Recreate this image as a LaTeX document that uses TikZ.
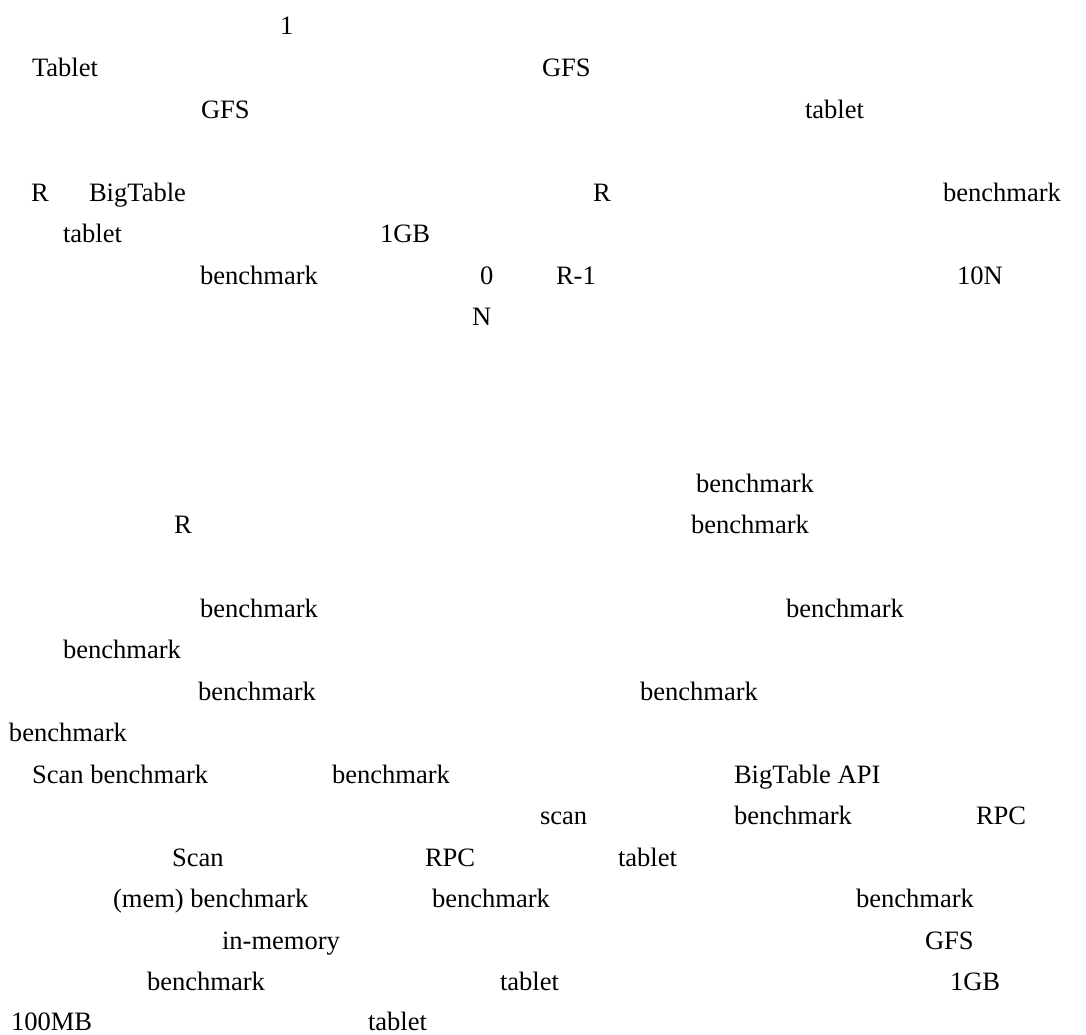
\documentclass[tikz,border=0pt]{standalone}
\usepackage{fontspec}
\setmainfont{Liberation Serif}
\tikzset{
  frag/.style={anchor=base west, inner sep=0pt, outer sep=0pt, font=\fontsize{12}{14}\selectfont}
}
\begin{document}
\begin{tikzpicture}[x=0.01588cm, y=-0.01588cm]
        \useasboundingbox (0,0) rectangle (1086,1034);
        \node[frag] (num)       at (280,34.5)  {1};
        \node[frag] (tabA)      at (32,76)     {Tablet};
        \node[frag] (gfsA)      at (542,76)    {GFS};
        \node[frag] (gfsB)      at (201,118)   {GFS};
        \node[frag] (tabB)      at (805,118)   {tablet};
        \node[frag] (rA)        at (31,201)    {R};
        \node[frag] (bigtA)     at (89,201)    {BigTable};
        \node[frag] (rB)        at (593,201)   {R};
        \node[frag] (benA)      at (943,201)   {benchmark};
        \node[frag] (tabC)      at (63,242.5)  {tablet};
        \node[frag] (gbA)       at (380,242.5) {1GB};
        \node[frag] (benB)      at (200,284)   {benchmark};
        \node[frag] (zero)      at (480,284)   {0};
        \node[frag] (rminus)    at (556,284)   {R-1};
        \node[frag] (tenN)      at (957,284)   {10N};
        \node[frag] (enN)       at (472,325.5) {N};
        \node[frag] (benC)      at (696,492)   {benchmark};
        \node[frag] (rC)        at (174,533.5) {R};
        \node[frag] (benD)      at (691,533.5) {benchmark};
        \node[frag] (benE)      at (200,617)   {benchmark};
        \node[frag] (benF)      at (786,617)   {benchmark};
        \node[frag] (benG)      at (63,658.5)  {benchmark};
        \node[frag] (benH)      at (198,700)   {benchmark};
        \node[frag] (benI)      at (640,700)   {benchmark};
        \node[frag] (benJ)      at (9,741.5)   {benchmark};
        \node[frag] (scanA)     at (32,783)    {Scan benchmark};
        \node[frag] (benK)      at (332,783)   {benchmark};
        \node[frag] (api)       at (734,783)   {BigTable API};
        \node[frag] (scanB)     at (540,824.5) {scan};
        \node[frag] (benL)      at (734,824.5) {benchmark};
        \node[frag] (rpcA)      at (976,824.5) {RPC};
        \node[frag] (scanC)     at (172,866)   {Scan};
        \node[frag] (rpcB)      at (425,866)   {RPC};
        \node[frag] (tabD)      at (618,866)   {tablet};
        \node[frag] (mem)       at (113,907.5) {(mem) benchmark};
        \node[frag] (benM)      at (432,907.5) {benchmark};
        \node[frag] (benN)      at (856,907.5) {benchmark};
        \node[frag] (inmem)     at (222,949)   {in-memory};
        \node[frag] (gfsC)      at (925,949)   {GFS};
        \node[frag] (benO)      at (147,990.5) {benchmark};
        \node[frag] (tabE)      at (500,990.5) {tablet};
        \node[frag] (gbB)       at (950,990.5) {1GB};
        \node[frag] (mb)        at (11,1030.5) {100MB};
        \node[frag] (tabF)      at (368,1030.5) {tablet};
    \end{tikzpicture}
\end{document}
